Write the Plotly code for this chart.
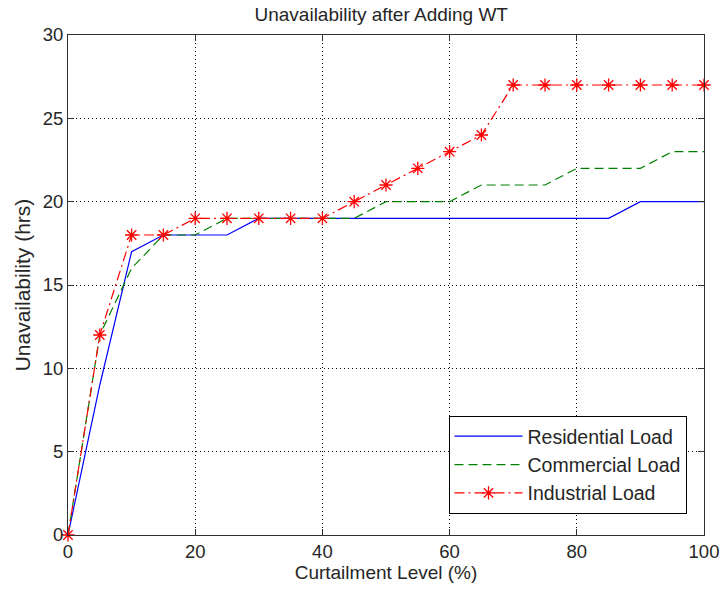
import plotly.graph_objects as go

# Curtailment level (%) and unavailability (hrs) for each load type
curtailment = [0, 5, 10, 15, 20, 25, 30, 35, 40, 45, 50,
               55, 60, 65, 70, 75, 80, 85, 90, 95, 100]
residential = [0, 9, 17, 18, 18, 18, 19, 19, 19, 19, 19,
               19, 19, 19, 19, 19, 19, 19, 20, 20, 20]
commercial = [0, 12, 16, 18, 18, 19, 19, 19, 19, 19, 20,
              20, 20, 21, 21, 21, 22, 22, 22, 23, 23]
industrial = [0, 12, 18, 18, 19, 19, 19, 19, 19, 20, 21,
              22, 23, 24, 27, 27, 27, 27, 27, 27, 27]

x_ticks = [0, 20, 40, 60, 80, 100]
y_ticks = [0, 5, 10, 15, 20, 25, 30]

FONT = "Liberation Sans, Arial, sans-serif"
TXT = "#262626"
AX = "#303030"

fig = go.Figure()
fig.add_trace(go.Scatter(
    x=curtailment, y=residential, mode="lines", name="Residential Load",
    line=dict(color="#0000FF", width=1.2), cliponaxis=False))
fig.add_trace(go.Scatter(
    x=curtailment, y=commercial, mode="lines", name="Commercial Load",
    line=dict(color="#008000", width=1.2, dash="9px,5px"), cliponaxis=False))
fig.add_trace(go.Scatter(
    x=curtailment, y=industrial, mode="lines+markers", name="Industrial Load",
    line=dict(color="#FF0000", width=1.2, dash="10px,4px,2px,4px"),
    marker=dict(symbol="asterisk-open", size=11, color="#FF0000",
                line=dict(color="#FF0000", width=1.3)),
    cliponaxis=False))

axis_common = dict(
    showline=True, linecolor=AX, linewidth=1, mirror="ticks",
    ticks="inside", ticklen=6, tickcolor=AX, tickwidth=1,
    showgrid=True, gridcolor="#000000", gridwidth=1, griddash="1px,3px",
    zeroline=False, automargin=False,
    tickfont=dict(family=FONT, size=18.5, color=TXT),
)

fig.update_xaxes(
    range=[0, 100], tickvals=x_ticks, ticktext=[str(v) for v in x_ticks],
    title=dict(text="Curtailment Level (%)", standoff=4,
               font=dict(family=FONT, size=19, color=TXT)),
    **axis_common)
fig.update_yaxes(
    range=[0, 30], tickvals=y_ticks, ticktext=[str(v) for v in y_ticks],
    title=dict(text="Unavailability (hrs)", standoff=6,
               font=dict(family=FONT, size=21, color=TXT)),
    **axis_common)

fig.update_layout(
    width=722, height=590,
    margin=dict(l=67.5, r=17.5, t=35, b=55),
    paper_bgcolor="white", plot_bgcolor="white",
    title=dict(text="Unavailability after Adding WT", x=0.528, xanchor="center",
               y=0.976, yanchor="middle",
               font=dict(family=FONT, size=19, color=TXT)),
    legend=dict(x=0.9725, xanchor="right", y=0.042, yanchor="bottom",
                bgcolor="white", bordercolor="#000000", borderwidth=1,
                font=dict(family=FONT, size=19.5, color=TXT),
                itemwidth=68, tracegroupgap=0),
    showlegend=True,
)

fig.write_html("out.html")
